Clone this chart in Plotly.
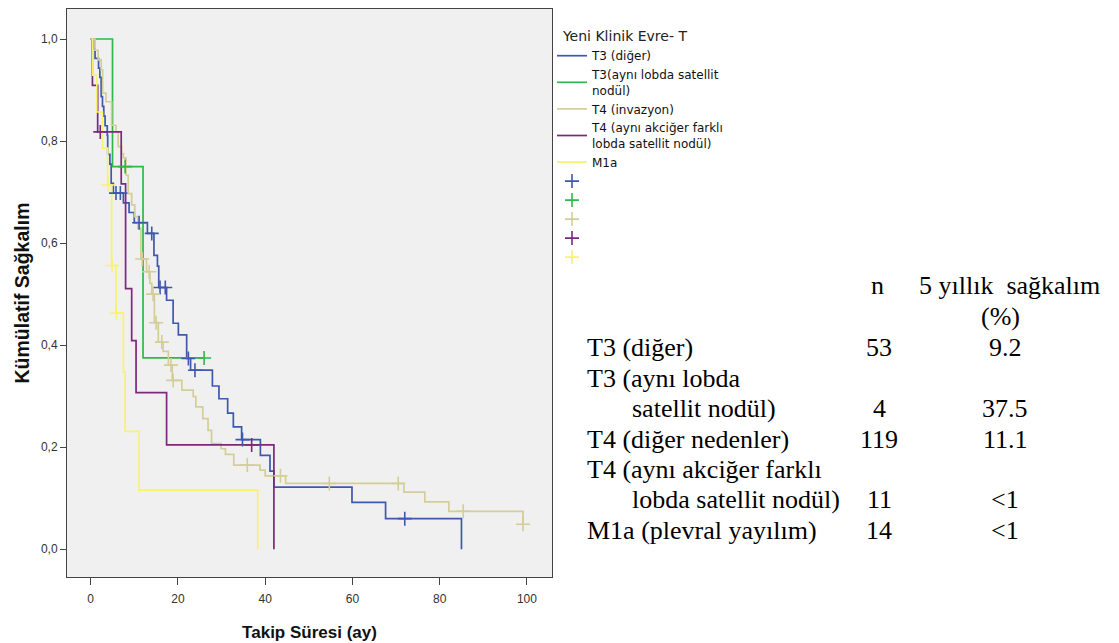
import plotly.graph_objects as go

# ---------------- data ----------------
group_names = [
    "T3 (diğer)",
    "T3(aynı lobda satellit<br>nodül)",
    "T4 (invazyon)",
    "T4 (aynı akciğer farklı<br>lobda satellit nodül)",
    "M1a",
]
group_colors = ["#3E58AC", "#2EB848", "#D3CE97", "#7C287D", "#F7F36E"]

# T3 (diğer)
blue_time = [0.7, 1.0, 1.8, 2.1, 2.4, 2.7, 3.0, 3.3, 3.8, 3.9, 4.4, 4.7, 5.2, 7.5, 8.8,
             10.0, 13.0, 14.5, 15.3, 15.6, 17.4, 18.9, 20.1, 22.0, 22.9, 27.9, 29.4,
             31.4, 32.7, 34.6, 38.9, 41.1, 42.0, 59.9, 67.6, 85.0]
blue_surv = [0.981, 0.962, 0.943, 0.925, 0.887, 0.868, 0.849, 0.830, 0.811, 0.774, 0.755,
             0.717, 0.698, 0.679, 0.660, 0.640, 0.619, 0.576, 0.555, 0.513, 0.488, 0.443,
             0.420, 0.374, 0.351, 0.320, 0.295, 0.267, 0.240, 0.215, 0.184, 0.153, 0.122,
             0.092, 0.060, 0.0]
blue_cens = [5.8, 6.8, 11.1, 14.0, 15.9, 17.1, 22.4, 23.9, 34.8, 72.0]

# T3 (aynı lobda satellit nodül)
green_time = [5.0, 12.0]
green_surv = [0.75, 0.375]
green_cens = [7.9, 26.0]

# T4 (invazyon)
tan_time = [1.0, 1.7, 2.4, 2.75, 3.5, 4.8, 5.8, 6.3, 7.1, 7.5, 8.1, 8.6, 9.4, 10.1, 10.8,
            11.5, 12.8, 13.6, 14.0, 14.6, 15.5, 16.6, 17.8, 18.7, 20.9, 23.5, 24.1, 25.7,
            26.9, 27.7, 29.9, 30.9, 32.8, 38.8, 40.0, 44.7, 71.8, 76.6, 82.1, 99.1]
tan_surv = [0.978, 0.959, 0.939, 0.894, 0.877, 0.831, 0.818, 0.789, 0.775, 0.767, 0.733,
            0.697, 0.675, 0.652, 0.629, 0.569, 0.544, 0.521, 0.500, 0.444, 0.406, 0.388,
            0.361, 0.331, 0.312, 0.299, 0.279, 0.256, 0.233, 0.207, 0.197, 0.186, 0.165,
            0.155, 0.144, 0.129, 0.112, 0.093, 0.0745, 0.049]
tan_cens = [11.8, 13.4, 14.3, 15.0, 16.3, 18.4, 18.9, 35.9, 43.5, 54.7, 70.5, 85.4, 99.1]

# T4 (aynı akciğer farklı lobda satellit nodül)
purple_time = [0.4, 1.6, 7.0, 8.0, 9.4, 10.4, 17.4, 42.0]
purple_surv = [0.909, 0.818, 0.716, 0.511, 0.409, 0.307, 0.2045, 0.0]
purple_cens = [2.2, 36.9]

# M1a
yellow_time = [0.5, 1.4, 2.7, 3.9, 4.8, 5.8, 7.5, 7.9, 11.1, 38.3]
yellow_surv = [0.929, 0.857, 0.786, 0.714, 0.556, 0.463, 0.347, 0.231, 0.116, 0.0]
yellow_cens = [4.0, 4.9, 5.9]

x_ticks = [0, 20, 40, 60, 80, 100]
y_ticks = [0.0, 0.2, 0.4, 0.6, 0.8, 1.0]
y_ticktext = ["0,0", "0,2", "0,4", "0,6", "0,8", "1,0"]

# summary table (right side)
table_labels = [["T3 (diğer)"],
                ["T3 (aynı lobda", "satellit nodül)"],
                ["T4 (diğer nedenler)"],
                ["T4 (aynı akciğer farklı", "lobda satellit nodül)"],
                ["M1a (plevral yayılım)"]]
table_n = ["53", "4", "119", "11", "14"]
table_surv = ["9.2", "37.5", "11.1", "<1", "<1"]

series = [
    (blue_time, blue_surv, blue_cens),
    (green_time, green_surv, green_cens),
    (tan_time, tan_surv, tan_cens),
    (purple_time, purple_surv, purple_cens),
    (yellow_time, yellow_surv, yellow_cens),
]


def step_xy(times, surv, cens):
    xs = [0.0] + list(times)
    ys = [1.0] + list(surv)
    end = max(list(times) + list(cens))
    if end > xs[-1]:
        xs.append(end)
        ys.append(ys[-1])
    return xs, ys


def level_at(times, surv, t):
    s = 1.0
    for ti, si in zip(times, surv):
        if ti <= t:
            s = si
    return s


fig = go.Figure()

for (t, s, c), name, col in zip(series, group_names, group_colors):
    xs, ys = step_xy(t, s, c)
    fig.add_trace(go.Scatter(x=xs, y=ys, mode="lines", line=dict(color=col, width=1.7, shape="hv"),
                             name=name, hoverinfo="skip"))

for (t, s, c), name, col in zip(series, group_names, group_colors):
    fig.add_trace(go.Scatter(x=c, y=[level_at(t, s, ci) for ci in c], mode="markers",
                             marker=dict(symbol="cross-thin", size=10, color=col,
                                         line=dict(color=col, width=1.6)),
                             name=" ", hoverinfo="skip"))

# plot area in pixels
L, R, T, B = 67, 552, 9, 577
W, H = 1119, 643


def px(xp):
    return (xp - L) / (R - L)


def py(yp):
    return (B - yp) / (B - T)


serif = "Liberation Serif, Times New Roman, serif"
tsize = 26
ann = []
ann.append(dict(text="n", x=px(877), y=py(285)))
ann.append(dict(text="5 yıllık&nbsp; sağkalım", x=px(1009), y=py(285)))
ann.append(dict(text="(%)", x=px(1000), y=py(316)))

row_y = [[347], [378, 408], [439], [469, 499], [530]]
for labels, ys, n, sv in zip(table_labels, row_y, table_n, table_surv):
    for i, (lab, yy) in enumerate(zip(labels, ys)):
        ann.append(dict(text=lab, x=px(585 if i == 0 else 630), y=py(yy), xanchor="left"))
    ann.append(dict(text=n, x=px(879), y=py(ys[-1])))
    ann.append(dict(text=sv.replace("<", "&lt;"), x=px(1005), y=py(ys[-1])))

annotations = []
for a in ann:
    d = dict(xref="paper", yref="paper", showarrow=False, yanchor="middle",
             font=dict(family=serif, size=tsize, color="#000"))
    d.setdefault("xanchor", "center")
    d.update(a)
    annotations.append(d)

sans = "Liberation Sans, Arial, sans-serif"
fig.update_layout(
    width=W, height=H,
    margin=dict(l=L, r=W - R, t=T, b=H - B, autoexpand=False),
    paper_bgcolor="white",
    plot_bgcolor="#F0F0F0",
    font=dict(family=sans, color="#333"),
    showlegend=True,
    legend=dict(
        x=1.0, xanchor="left", y=py(23), yanchor="top",
        title=dict(text="&nbsp;&nbsp;Yeni Klinik Evre- T",
                   font=dict(family="DejaVu Sans", size=14, color="#222")),
        font=dict(family="DejaVu Sans", size=12, color="#111"),
        bgcolor="rgba(0,0,0,0)", tracegroupgap=0, itemwidth=30,
    ),
    annotations=annotations,
    xaxis=dict(range=[-5.43, 105.75], tickvals=x_ticks, ticks="outside", ticklen=7,
               tickcolor="#444", tickwidth=1, showgrid=False, zeroline=False,
               showline=True, mirror=True, linecolor="#444", linewidth=1,
               tickfont=dict(size=12, color="#333"), ticklabelstandoff=4,
               title=dict(text="<b>Takip Süresi (ay)</b>", font=dict(size=17, color="#111"),
                          standoff=20),
               automargin=False),
    yaxis=dict(range=[-0.0543, 1.0588], tickvals=y_ticks, ticktext=y_ticktext,
               ticks="outside", ticklen=6, tickcolor="#444", tickwidth=1,
               showgrid=False, zeroline=False, showline=True, mirror=True,
               linecolor="#444", linewidth=1, tickfont=dict(size=12, color="#333"),
               title=dict(text="<b>Kümülatif Sağkalım</b>", font=dict(size=19.5, color="#111"),
                          standoff=6),
               automargin=False),
)

fig.write_html("out.html")
